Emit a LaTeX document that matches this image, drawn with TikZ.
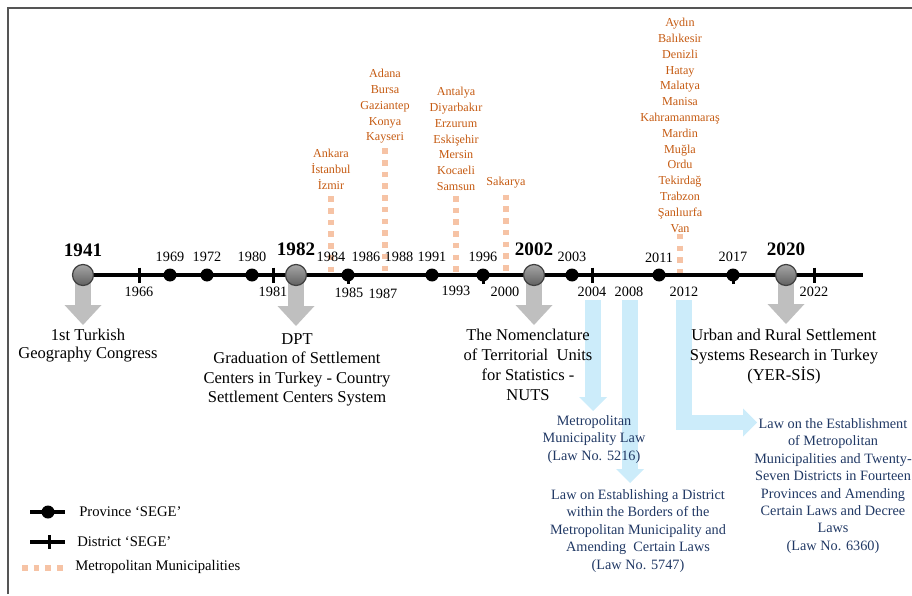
\documentclass[tikz,border=0pt]{standalone}
\usepackage{fontspec}
\setmainfont{Liberation Serif}
\usepackage{xcolor}
\definecolor{frameline}{RGB}{85, 85, 85}
\definecolor{cityorange}{RGB}{197, 90, 17}
\definecolor{metropeach}{RGB}{246, 195, 165}
\definecolor{arrowgray}{RGB}{191, 191, 191}
\definecolor{lawblue}{RGB}{32, 56, 100}
\definecolor{skyblue}{RGB}{204, 236, 250}
\usepackage{tikz}
\usetikzlibrary{positioning, calc, backgrounds, arrows.meta}

\tikzset{
    yearlbl/.style={inner sep=0pt, font=\fontsize{10.7}{12}\selectfont},
    bigyear/.style={inner sep=0pt, font=\fontsize{14.3}{16}\selectfont\bfseries},
    prov/.style={circle, fill=black, inner sep=0pt, minimum size=9.75pt},
    bigball/.style={circle, draw=black!75, line width=0.9pt, top color=black!35, bottom color=black!62, inner sep=0pt, minimum size=15.75pt},
    citylist/.style={inner sep=0pt, anchor=north, align=center, text=cityorange, font=\fontsize{9.1}{11.85}\selectfont},
    eventtxt/.style={inner sep=0pt, anchor=north, align=center, font=\fontsize{12.4}{15}\selectfont},
    lawtxt/.style={inner sep=0pt, anchor=north, align=center, text=lawblue, font=\fontsize{10.7}{13.1}\selectfont},
    legendtxt/.style={inner sep=0pt, anchor=west, font=\fontsize{11}{13}\selectfont},
    grayarrow/.style={draw=arrowgray, line width=12pt, -{Triangle[width=27.75pt, length=15pt, line width=0pt]}},
    skyarrow/.style={draw=skyblue, line width=11.6pt, -{Triangle[width=21pt, length=10.5pt, line width=0pt]}},
    metro/.style={draw=metropeach, line width=4.2pt, dash pattern=on 4.2pt off 4.6pt},
    tickmark/.style={line width=2.25pt},
    axisline/.style={line width=2.6pt},
}

\begin{document}
\begin{tikzpicture}[x=0.75pt, y=-0.75pt]
    \useasboundingbox (0,0) rectangle (912,595);

    % Frame
    \draw[frameline, line width=0.9pt] (8,594) -- (8,8) -- (912,8);

    % Main dates
    \node[bigball] (c1941) at (83,275) {};
    \node[bigball] (c1982) at (296,275) {};
    \node[bigball] (c2002) at (534,275) {};
    \node[bigball] (c2020) at (786,275) {};
    \coordinate (lineEnd) at (863,275);

    % Province dots
    \node[prov] (p1969) at (170,275) {};
    \node[prov] (p1972) at (207,275) {};
    \node[prov] (p1980) at (252,275) {};
    \node[prov] (p1985) at (348,275) {};
    \node[prov] (p1991) at (432,275) {};
    \node[prov] (p1996) at (483,275) {};
    \node[prov] (p2003) at (572,275) {};
    \node[prov] (p2011) at (659,275) {};
    \node[prov] (p2017) at (733,275) {};

    % Year labels
    \node[bigyear] (y1941) at (83,250) {1941};
    \node[bigyear] (y1982) at (296,249) {1982};
    \node[bigyear] (y2002) at (534,249) {2002};
    \node[bigyear] (y2020) at (786,249) {2020};
    \node[yearlbl] (y1969) at (170,257) {1969};
    \node[yearlbl] (y1972) at (207,257) {1972};
    \node[yearlbl] (y1980) at (252,257) {1980};
    \node[yearlbl] (y1984) at (331,257) {1984};
    \node[yearlbl] (y1986) at (366,257) {1986};
    \node[yearlbl] (y1988) at (399,257) {1988};
    \node[yearlbl] (y1991) at (432,257) {1991};
    \node[yearlbl] (y1996) at (483,257) {1996};
    \node[yearlbl] (y2003) at (572,257) {2003};
    \node[yearlbl] (y2011) at (659,258) {2011};
    \node[yearlbl] (y2017) at (733,257) {2017};
    \node[yearlbl] (y1966) at (139,292) {1966};
    \node[yearlbl] (y1981) at (273,292) {1981};
    \node[yearlbl] (y1985) at (349,293) {1985};
    \node[yearlbl] (y1987) at (383,294) {1987};
    \node[yearlbl] (y1993) at (456,291) {1993};
    \node[yearlbl] (y2000) at (505,292) {2000};
    \node[yearlbl] (y2004) at (592,292) {2004};
    \node[yearlbl] (y2008) at (629,292) {2008};
    \node[yearlbl] (y2012) at (684,292) {2012};
    \node[yearlbl] (y2022) at (814,292) {2022};

    % Metropolitan municipalities
    \node[citylist] (mm1984) at (331,149) {Ankara\\İstanbul\\İzmir};
    \node[citylist] (mm1987) at (385,69) {Adana\\Bursa\\Gaziantep\\Konya\\Kayseri};
    \node[citylist] (mm1993) at (456,87) {Antalya\\Diyarbakır\\Erzurum\\Eskişehir\\Mersin\\Kocaeli\\Samsun};
    \node[citylist] (mm2000) at (506,177) {Sakarya};
    \node[citylist] (mm2012) at (680,18) {Aydın\\Balıkesir\\Denizli\\Hatay\\Malatya\\Manisa\\Kahramanmaraş\\Mardin\\Muğla\\Ordu\\Tekirdağ\\Trabzon\\Şanlıurfa\\Van};

    % Events
    \node[eventtxt, font=\fontsize{12.4}{13}\selectfont] (ev1941) at (88,329) {1st Turkish\\Geography Congress};
    \node[eventtxt, font=\fontsize{12.4}{14.6}\selectfont] (ev1982) at (297,333) {DPT\\Graduation of Settlement\\Centers in Turkey - Country\\Settlement Centers System};
    \node[eventtxt] (ev2002) at (528,329) {The Nomenclature\\of Territorial~ Units\\for Statistics -\\NUTS};
    \node[eventtxt] (ev2020) at (784,329) {Urban and Rural Settlement\\Systems Research in Turkey\\(YER-SİS)};

    % Laws
    \node[lawtxt] (law5216) at (594,415) {Metropolitan\\Municipality Law\\(Law No. 5216)};
    \node[lawtxt] (law5747) at (638,489) {Law on Establishing a District\\within the Borders of the\\Metropolitan Municipality and\\Amending~ Certain Laws\\(Law No. 5747)};
    \node[lawtxt] (law6360) at (833,418) {Law on the Establishment\\of Metropolitan\\Municipalities and Twenty-\\Seven Districts in Fourteen\\Provinces and Amending\\Certain Laws and Decree\\Laws\\(Law No. 6360)};
    \coordinate (k2012) at (757,422.5);

    \begin{scope}[on background layer]
        % Metropolitan columns
        \draw[metro, shorten <=5pt] (mm1984.south) -- (mm1984.south |- lineEnd);
        \draw[metro, shorten <=3.3pt] (mm1987.south) -- (mm1987.south |- lineEnd);
        \draw[metro, shorten <=3.8pt] (mm1993.south) -- (mm1993.south |- lineEnd);
        \draw[metro, shorten <=4.5pt] (mm2000.south) -- (mm2000.south |- lineEnd);
        \draw[metro, shorten <=1pt] (mm2012.south) -- (mm2012.south |- lineEnd);

        % Event arrows
        \draw[grayarrow, shorten >=3pt] (c1941.center) -- (c1941 |- ev1941.north);
        \draw[grayarrow, shorten >=5.25pt] (c1982.center) -- (c1982 |- ev1982.north);
        \draw[grayarrow, shorten >=3pt] (c2002.center) -- (c2002 |- ev2002.north);
        \draw[grayarrow, shorten >=3.75pt] (c2020.center) -- (c2020 |- ev2020.north);

        % Law arrows
        \draw[skyarrow, shorten <=2.5pt, shorten >=3pt] ([xshift=0.75pt]y2004.south) -- ([xshift=0.75pt]y2004.south |- law5216.north);
        \draw[skyarrow, shorten <=2.5pt, shorten >=4.5pt] ([xshift=0.75pt]y2008.south) -- ([xshift=0.75pt]y2008.south |- law5747.north);
        \draw[skyarrow, shorten <=2.5pt] (y2012.south) |- (k2012);

        % Timeline
        \draw[axisline] (c1941.center) -- (lineEnd);
    \end{scope}

    % District ticks
    \draw[tickmark] (139,267.5) -- (139,282.5);
    \draw[tickmark] (273,267.5) -- (273,282.5);
    \draw[tickmark] (592,267.5) -- (592,282.5);
    \draw[tickmark] (814,267.5) -- (814,282.5);
    \draw[tickmark] (p1985.center) -- ++(0,8.5);
    \draw[tickmark] (p1996.center) -- ++(0,8.5);
    \draw[tickmark] (p2017.center) -- ++(0,8.5);

    % Legend
    \draw[axisline] (30,512) -- (65,512);
    \node[prov] (legprov) at (48,512) {};
    \node[legendtxt] (txtprov) at (79,512) {Province ‘SEGE’};
    \draw[axisline] (30,542) -- (65,542);
    \draw[tickmark] (49,535) -- (49,549);
    \node[legendtxt] (txtdist) at (77,542) {District ‘SEGE’};
    \draw[metro] (22,568) -- (64,568);
    \node[legendtxt] (txtmetro) at (75,566.5) {Metropolitan Municipalities};
\end{tikzpicture}
\end{document}
